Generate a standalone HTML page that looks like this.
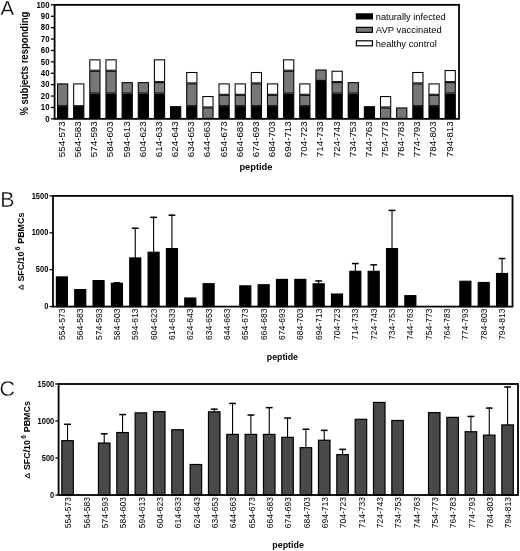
<!DOCTYPE html>
<html><head><meta charset="utf-8"><style>
html,body{margin:0;padding:0;background:#fff;}
svg{display:block;font-family:"Liberation Sans", sans-serif;will-change:transform;}
</style></head><body>
<svg width="520" height="551" viewBox="0 0 520 551" font-family='"Liberation Sans", sans-serif'>
<rect width="520" height="551" fill="#fff"/>
<g stroke="#fff" stroke-width="0.35"><text transform="translate(0.5,15.45) scale(0.985,1)" font-size="20.8">A</text>
<text transform="translate(0.3,206.7)" font-size="21.2">B</text>
<text transform="translate(-0.4,395.55)" font-size="21.5">C</text></g>
<rect x="57.50" y="106.70" width="10.20" height="11.65" fill="#000" stroke="#000" stroke-width="1.05"/>
<rect x="57.50" y="83.90" width="10.20" height="21.80" fill="#777777" stroke="#000" stroke-width="1.05"/>
<rect x="73.65" y="106.70" width="10.20" height="11.65" fill="#000" stroke="#000" stroke-width="1.05"/>
<rect x="73.65" y="83.90" width="10.20" height="21.80" fill="#fff" stroke="#000" stroke-width="1.05"/>
<rect x="89.80" y="94.04" width="10.20" height="24.31" fill="#000" stroke="#000" stroke-width="1.05"/>
<rect x="89.80" y="71.24" width="10.20" height="21.80" fill="#777777" stroke="#000" stroke-width="1.05"/>
<rect x="89.80" y="59.84" width="10.20" height="10.40" fill="#fff" stroke="#000" stroke-width="1.05"/>
<rect x="105.95" y="94.04" width="10.20" height="24.31" fill="#000" stroke="#000" stroke-width="1.05"/>
<rect x="105.95" y="71.24" width="10.20" height="21.80" fill="#777777" stroke="#000" stroke-width="1.05"/>
<rect x="105.95" y="59.84" width="10.20" height="10.40" fill="#fff" stroke="#000" stroke-width="1.05"/>
<rect x="122.10" y="94.04" width="10.20" height="24.31" fill="#000" stroke="#000" stroke-width="1.05"/>
<rect x="122.10" y="82.64" width="10.20" height="10.40" fill="#777777" stroke="#000" stroke-width="1.05"/>
<rect x="138.25" y="94.04" width="10.20" height="24.31" fill="#000" stroke="#000" stroke-width="1.05"/>
<rect x="138.25" y="82.64" width="10.20" height="10.40" fill="#777777" stroke="#000" stroke-width="1.05"/>
<rect x="154.40" y="94.04" width="10.20" height="24.31" fill="#000" stroke="#000" stroke-width="1.05"/>
<rect x="154.40" y="82.64" width="10.20" height="10.40" fill="#777777" stroke="#000" stroke-width="1.05"/>
<rect x="154.40" y="59.84" width="10.20" height="21.80" fill="#fff" stroke="#000" stroke-width="1.05"/>
<rect x="170.55" y="106.70" width="10.20" height="11.65" fill="#000" stroke="#000" stroke-width="1.05"/>
<rect x="186.70" y="106.70" width="10.20" height="11.65" fill="#000" stroke="#000" stroke-width="1.05"/>
<rect x="186.70" y="83.90" width="10.20" height="21.80" fill="#777777" stroke="#000" stroke-width="1.05"/>
<rect x="186.70" y="72.50" width="10.20" height="10.40" fill="#fff" stroke="#000" stroke-width="1.05"/>
<rect x="202.85" y="107.95" width="10.20" height="10.40" fill="#777777" stroke="#000" stroke-width="1.05"/>
<rect x="202.85" y="96.55" width="10.20" height="10.40" fill="#fff" stroke="#000" stroke-width="1.05"/>
<rect x="219.00" y="106.70" width="10.20" height="11.65" fill="#000" stroke="#000" stroke-width="1.05"/>
<rect x="219.00" y="95.30" width="10.20" height="10.40" fill="#777777" stroke="#000" stroke-width="1.05"/>
<rect x="219.00" y="83.90" width="10.20" height="10.40" fill="#fff" stroke="#000" stroke-width="1.05"/>
<rect x="235.15" y="106.70" width="10.20" height="11.65" fill="#000" stroke="#000" stroke-width="1.05"/>
<rect x="235.15" y="95.30" width="10.20" height="10.40" fill="#777777" stroke="#000" stroke-width="1.05"/>
<rect x="235.15" y="83.90" width="10.20" height="10.40" fill="#fff" stroke="#000" stroke-width="1.05"/>
<rect x="251.30" y="106.70" width="10.20" height="11.65" fill="#000" stroke="#000" stroke-width="1.05"/>
<rect x="251.30" y="83.90" width="10.20" height="21.80" fill="#777777" stroke="#000" stroke-width="1.05"/>
<rect x="251.30" y="72.50" width="10.20" height="10.40" fill="#fff" stroke="#000" stroke-width="1.05"/>
<rect x="267.45" y="106.70" width="10.20" height="11.65" fill="#000" stroke="#000" stroke-width="1.05"/>
<rect x="267.45" y="95.30" width="10.20" height="10.40" fill="#777777" stroke="#000" stroke-width="1.05"/>
<rect x="267.45" y="83.90" width="10.20" height="10.40" fill="#fff" stroke="#000" stroke-width="1.05"/>
<rect x="283.60" y="94.04" width="10.20" height="24.31" fill="#000" stroke="#000" stroke-width="1.05"/>
<rect x="283.60" y="71.24" width="10.20" height="21.80" fill="#777777" stroke="#000" stroke-width="1.05"/>
<rect x="283.60" y="59.84" width="10.20" height="10.40" fill="#fff" stroke="#000" stroke-width="1.05"/>
<rect x="299.75" y="106.70" width="10.20" height="11.65" fill="#000" stroke="#000" stroke-width="1.05"/>
<rect x="299.75" y="95.30" width="10.20" height="10.40" fill="#777777" stroke="#000" stroke-width="1.05"/>
<rect x="299.75" y="83.90" width="10.20" height="10.40" fill="#fff" stroke="#000" stroke-width="1.05"/>
<rect x="315.90" y="81.39" width="10.20" height="36.96" fill="#000" stroke="#000" stroke-width="1.05"/>
<rect x="315.90" y="69.99" width="10.20" height="10.40" fill="#777777" stroke="#000" stroke-width="1.05"/>
<rect x="332.05" y="94.04" width="10.20" height="24.31" fill="#000" stroke="#000" stroke-width="1.05"/>
<rect x="332.05" y="82.64" width="10.20" height="10.40" fill="#777777" stroke="#000" stroke-width="1.05"/>
<rect x="332.05" y="71.24" width="10.20" height="10.40" fill="#fff" stroke="#000" stroke-width="1.05"/>
<rect x="348.20" y="94.04" width="10.20" height="24.31" fill="#000" stroke="#000" stroke-width="1.05"/>
<rect x="348.20" y="82.64" width="10.20" height="10.40" fill="#777777" stroke="#000" stroke-width="1.05"/>
<rect x="364.35" y="106.70" width="10.20" height="11.65" fill="#000" stroke="#000" stroke-width="1.05"/>
<rect x="380.50" y="107.95" width="10.20" height="10.40" fill="#777777" stroke="#000" stroke-width="1.05"/>
<rect x="380.50" y="96.55" width="10.20" height="10.40" fill="#fff" stroke="#000" stroke-width="1.05"/>
<rect x="396.65" y="107.95" width="10.20" height="10.40" fill="#777777" stroke="#000" stroke-width="1.05"/>
<rect x="412.80" y="106.70" width="10.20" height="11.65" fill="#000" stroke="#000" stroke-width="1.05"/>
<rect x="412.80" y="83.90" width="10.20" height="21.80" fill="#777777" stroke="#000" stroke-width="1.05"/>
<rect x="412.80" y="72.50" width="10.20" height="10.40" fill="#fff" stroke="#000" stroke-width="1.05"/>
<rect x="428.95" y="106.70" width="10.20" height="11.65" fill="#000" stroke="#000" stroke-width="1.05"/>
<rect x="428.95" y="95.30" width="10.20" height="10.40" fill="#777777" stroke="#000" stroke-width="1.05"/>
<rect x="428.95" y="83.90" width="10.20" height="10.40" fill="#fff" stroke="#000" stroke-width="1.05"/>
<rect x="445.10" y="94.04" width="10.20" height="24.31" fill="#000" stroke="#000" stroke-width="1.05"/>
<rect x="445.10" y="82.64" width="10.20" height="10.40" fill="#777777" stroke="#000" stroke-width="1.05"/>
<rect x="445.10" y="70.56" width="10.20" height="11.08" fill="#fff" stroke="#000" stroke-width="1.05"/>
<rect x="54.60" y="4.85" width="404.40" height="114.00" fill="none" stroke="#000" stroke-width="1.8"/>
<line x1="50.9" y1="118.85" x2="54.60" y2="118.85" stroke="#000" stroke-width="1.3"/>
<text x="49.55" y="121.55" font-size="8.7" font-weight="bold" text-anchor="end" textLength="4.35" lengthAdjust="spacingAndGlyphs">0</text>
<line x1="50.9" y1="107.45" x2="54.60" y2="107.45" stroke="#000" stroke-width="1.3"/>
<text x="49.55" y="110.15" font-size="8.7" font-weight="bold" text-anchor="end" textLength="8.70" lengthAdjust="spacingAndGlyphs">10</text>
<line x1="50.9" y1="96.05" x2="54.60" y2="96.05" stroke="#000" stroke-width="1.3"/>
<text x="49.55" y="98.75" font-size="8.7" font-weight="bold" text-anchor="end" textLength="8.70" lengthAdjust="spacingAndGlyphs">20</text>
<line x1="50.9" y1="84.65" x2="54.60" y2="84.65" stroke="#000" stroke-width="1.3"/>
<text x="49.55" y="87.35" font-size="8.7" font-weight="bold" text-anchor="end" textLength="8.70" lengthAdjust="spacingAndGlyphs">30</text>
<line x1="50.9" y1="73.25" x2="54.60" y2="73.25" stroke="#000" stroke-width="1.3"/>
<text x="49.55" y="75.95" font-size="8.7" font-weight="bold" text-anchor="end" textLength="8.70" lengthAdjust="spacingAndGlyphs">40</text>
<line x1="50.9" y1="61.85" x2="54.60" y2="61.85" stroke="#000" stroke-width="1.3"/>
<text x="49.55" y="64.55" font-size="8.7" font-weight="bold" text-anchor="end" textLength="8.70" lengthAdjust="spacingAndGlyphs">50</text>
<line x1="50.9" y1="50.45" x2="54.60" y2="50.45" stroke="#000" stroke-width="1.3"/>
<text x="49.55" y="53.15" font-size="8.7" font-weight="bold" text-anchor="end" textLength="8.70" lengthAdjust="spacingAndGlyphs">60</text>
<line x1="50.9" y1="39.05" x2="54.60" y2="39.05" stroke="#000" stroke-width="1.3"/>
<text x="49.55" y="41.75" font-size="8.7" font-weight="bold" text-anchor="end" textLength="8.70" lengthAdjust="spacingAndGlyphs">70</text>
<line x1="50.9" y1="27.65" x2="54.60" y2="27.65" stroke="#000" stroke-width="1.3"/>
<text x="49.55" y="30.35" font-size="8.7" font-weight="bold" text-anchor="end" textLength="8.70" lengthAdjust="spacingAndGlyphs">80</text>
<line x1="50.9" y1="16.25" x2="54.60" y2="16.25" stroke="#000" stroke-width="1.3"/>
<text x="49.55" y="18.95" font-size="8.7" font-weight="bold" text-anchor="end" textLength="8.70" lengthAdjust="spacingAndGlyphs">90</text>
<line x1="50.9" y1="4.85" x2="54.60" y2="4.85" stroke="#000" stroke-width="1.3"/>
<text x="49.55" y="7.55" font-size="8.7" font-weight="bold" text-anchor="end" textLength="13.05" lengthAdjust="spacingAndGlyphs">100</text>
<text transform="translate(27.80,63.60) rotate(-90)" font-size="10.4" font-weight="bold" text-anchor="middle" textLength="104.00" lengthAdjust="spacingAndGlyphs">% subjects responding</text>
<text transform="translate(65.00,121.30) rotate(-90)" font-size="9.3" text-anchor="end" textLength="35.90" lengthAdjust="spacingAndGlyphs">554-573</text>
<text transform="translate(81.15,121.30) rotate(-90)" font-size="9.3" text-anchor="end" textLength="35.90" lengthAdjust="spacingAndGlyphs">564-583</text>
<text transform="translate(97.30,121.30) rotate(-90)" font-size="9.3" text-anchor="end" textLength="35.90" lengthAdjust="spacingAndGlyphs">574-593</text>
<text transform="translate(113.45,121.30) rotate(-90)" font-size="9.3" text-anchor="end" textLength="35.90" lengthAdjust="spacingAndGlyphs">584-603</text>
<text transform="translate(129.60,121.30) rotate(-90)" font-size="9.3" text-anchor="end" textLength="35.90" lengthAdjust="spacingAndGlyphs">594-613</text>
<text transform="translate(145.75,121.30) rotate(-90)" font-size="9.3" text-anchor="end" textLength="35.90" lengthAdjust="spacingAndGlyphs">604-623</text>
<text transform="translate(161.90,121.30) rotate(-90)" font-size="9.3" text-anchor="end" textLength="35.90" lengthAdjust="spacingAndGlyphs">614-633</text>
<text transform="translate(178.05,121.30) rotate(-90)" font-size="9.3" text-anchor="end" textLength="35.90" lengthAdjust="spacingAndGlyphs">624-643</text>
<text transform="translate(194.20,121.30) rotate(-90)" font-size="9.3" text-anchor="end" textLength="35.90" lengthAdjust="spacingAndGlyphs">634-653</text>
<text transform="translate(210.35,121.30) rotate(-90)" font-size="9.3" text-anchor="end" textLength="35.90" lengthAdjust="spacingAndGlyphs">644-663</text>
<text transform="translate(226.50,121.30) rotate(-90)" font-size="9.3" text-anchor="end" textLength="35.90" lengthAdjust="spacingAndGlyphs">654-673</text>
<text transform="translate(242.65,121.30) rotate(-90)" font-size="9.3" text-anchor="end" textLength="35.90" lengthAdjust="spacingAndGlyphs">664-683</text>
<text transform="translate(258.80,121.30) rotate(-90)" font-size="9.3" text-anchor="end" textLength="35.90" lengthAdjust="spacingAndGlyphs">674-693</text>
<text transform="translate(274.95,121.30) rotate(-90)" font-size="9.3" text-anchor="end" textLength="35.90" lengthAdjust="spacingAndGlyphs">684-703</text>
<text transform="translate(291.10,121.30) rotate(-90)" font-size="9.3" text-anchor="end" textLength="35.90" lengthAdjust="spacingAndGlyphs">694-713</text>
<text transform="translate(307.25,121.30) rotate(-90)" font-size="9.3" text-anchor="end" textLength="35.90" lengthAdjust="spacingAndGlyphs">704-723</text>
<text transform="translate(323.40,121.30) rotate(-90)" font-size="9.3" text-anchor="end" textLength="35.90" lengthAdjust="spacingAndGlyphs">714-733</text>
<text transform="translate(339.55,121.30) rotate(-90)" font-size="9.3" text-anchor="end" textLength="35.90" lengthAdjust="spacingAndGlyphs">724-743</text>
<text transform="translate(355.70,121.30) rotate(-90)" font-size="9.3" text-anchor="end" textLength="35.90" lengthAdjust="spacingAndGlyphs">734-753</text>
<text transform="translate(371.85,121.30) rotate(-90)" font-size="9.3" text-anchor="end" textLength="35.90" lengthAdjust="spacingAndGlyphs">744-763</text>
<text transform="translate(388.00,121.30) rotate(-90)" font-size="9.3" text-anchor="end" textLength="35.90" lengthAdjust="spacingAndGlyphs">754-773</text>
<text transform="translate(404.15,121.30) rotate(-90)" font-size="9.3" text-anchor="end" textLength="35.90" lengthAdjust="spacingAndGlyphs">764-783</text>
<text transform="translate(420.30,121.30) rotate(-90)" font-size="9.3" text-anchor="end" textLength="35.90" lengthAdjust="spacingAndGlyphs">774-793</text>
<text transform="translate(436.45,121.30) rotate(-90)" font-size="9.3" text-anchor="end" textLength="35.90" lengthAdjust="spacingAndGlyphs">784-803</text>
<text transform="translate(452.60,121.30) rotate(-90)" font-size="9.3" text-anchor="end" textLength="35.90" lengthAdjust="spacingAndGlyphs">794-813</text>
<text x="255.90" y="169.50" font-size="8.9" font-weight="bold" text-anchor="middle" textLength="33.00" lengthAdjust="spacingAndGlyphs">peptide</text>
<rect x="356.4" y="13.90" width="16.0" height="5.0" fill="#000" stroke="#000" stroke-width="1.2"/>
<text x="375.80" y="20.00" font-size="8.9" textLength="69.90" lengthAdjust="spacingAndGlyphs">naturally infected</text>
<rect x="356.4" y="27.35" width="16.0" height="5.0" fill="#777777" stroke="#000" stroke-width="1.2"/>
<text x="375.80" y="33.45" font-size="8.9" textLength="66.00" lengthAdjust="spacingAndGlyphs">AVP vaccinated</text>
<rect x="356.4" y="40.80" width="16.0" height="5.0" fill="#fff" stroke="#000" stroke-width="1.2"/>
<text x="375.80" y="46.90" font-size="8.9" textLength="61.00" lengthAdjust="spacingAndGlyphs">healthy control</text>
<rect x="56.40" y="276.93" width="11.00" height="29.67" fill="#000" stroke="#000" stroke-width="1.2"/>
<rect x="74.74" y="289.63" width="11.00" height="16.97" fill="#000" stroke="#000" stroke-width="1.2"/>
<rect x="93.08" y="280.62" width="11.00" height="25.98" fill="#000" stroke="#000" stroke-width="1.2"/>
<line x1="116.92" y1="282.21" x2="116.92" y2="283.35" stroke="#000" stroke-width="1.1"/>
<line x1="113.52" y1="282.81" x2="120.32" y2="282.81" stroke="#000" stroke-width="1.5"/>
<rect x="111.42" y="283.35" width="11.00" height="23.25" fill="#000" stroke="#000" stroke-width="1.2"/>
<line x1="135.26" y1="227.67" x2="135.26" y2="257.97" stroke="#000" stroke-width="1.1"/>
<line x1="131.86" y1="228.27" x2="138.66" y2="228.27" stroke="#000" stroke-width="1.5"/>
<rect x="129.76" y="257.97" width="11.00" height="48.63" fill="#000" stroke="#000" stroke-width="1.2"/>
<line x1="153.60" y1="216.75" x2="153.60" y2="252.28" stroke="#000" stroke-width="1.1"/>
<line x1="150.20" y1="217.35" x2="157.00" y2="217.35" stroke="#000" stroke-width="1.5"/>
<rect x="148.10" y="252.28" width="11.00" height="54.32" fill="#000" stroke="#000" stroke-width="1.2"/>
<line x1="171.94" y1="214.61" x2="171.94" y2="248.59" stroke="#000" stroke-width="1.1"/>
<line x1="168.54" y1="215.21" x2="175.34" y2="215.21" stroke="#000" stroke-width="1.5"/>
<rect x="166.44" y="248.59" width="11.00" height="58.01" fill="#000" stroke="#000" stroke-width="1.2"/>
<rect x="184.78" y="298.04" width="11.00" height="8.56" fill="#000" stroke="#000" stroke-width="1.2"/>
<rect x="203.12" y="283.72" width="11.00" height="22.88" fill="#000" stroke="#000" stroke-width="1.2"/>
<rect x="239.80" y="285.86" width="11.00" height="20.74" fill="#000" stroke="#000" stroke-width="1.2"/>
<rect x="258.14" y="284.76" width="11.00" height="21.84" fill="#000" stroke="#000" stroke-width="1.2"/>
<rect x="276.48" y="279.44" width="11.00" height="27.16" fill="#000" stroke="#000" stroke-width="1.2"/>
<rect x="294.82" y="279.44" width="11.00" height="27.16" fill="#000" stroke="#000" stroke-width="1.2"/>
<line x1="318.66" y1="280.37" x2="318.66" y2="283.87" stroke="#000" stroke-width="1.1"/>
<line x1="315.26" y1="280.97" x2="322.06" y2="280.97" stroke="#000" stroke-width="1.5"/>
<rect x="313.16" y="283.87" width="11.00" height="22.73" fill="#000" stroke="#000" stroke-width="1.2"/>
<rect x="331.50" y="294.05" width="11.00" height="12.55" fill="#000" stroke="#000" stroke-width="1.2"/>
<line x1="355.34" y1="262.95" x2="355.34" y2="271.32" stroke="#000" stroke-width="1.1"/>
<line x1="351.94" y1="263.55" x2="358.74" y2="263.55" stroke="#000" stroke-width="1.5"/>
<rect x="349.84" y="271.32" width="11.00" height="35.28" fill="#000" stroke="#000" stroke-width="1.2"/>
<line x1="373.68" y1="264.28" x2="373.68" y2="271.32" stroke="#000" stroke-width="1.1"/>
<line x1="370.28" y1="264.88" x2="377.08" y2="264.88" stroke="#000" stroke-width="1.5"/>
<rect x="368.18" y="271.32" width="11.00" height="35.28" fill="#000" stroke="#000" stroke-width="1.2"/>
<line x1="392.02" y1="209.81" x2="392.02" y2="248.59" stroke="#000" stroke-width="1.1"/>
<line x1="388.62" y1="210.41" x2="395.42" y2="210.41" stroke="#000" stroke-width="1.5"/>
<rect x="386.52" y="248.59" width="11.00" height="58.01" fill="#000" stroke="#000" stroke-width="1.2"/>
<rect x="404.86" y="295.68" width="11.00" height="10.92" fill="#000" stroke="#000" stroke-width="1.2"/>
<rect x="459.88" y="281.29" width="11.00" height="25.31" fill="#000" stroke="#000" stroke-width="1.2"/>
<rect x="478.22" y="282.54" width="11.00" height="24.06" fill="#000" stroke="#000" stroke-width="1.2"/>
<line x1="502.06" y1="257.93" x2="502.06" y2="273.54" stroke="#000" stroke-width="1.1"/>
<line x1="498.66" y1="258.53" x2="505.46" y2="258.53" stroke="#000" stroke-width="1.5"/>
<rect x="496.56" y="273.54" width="11.00" height="33.06" fill="#000" stroke="#000" stroke-width="1.2"/>
<rect x="53.00" y="195.90" width="459.50" height="110.70" fill="none" stroke="#000" stroke-width="1.8"/>
<line x1="49.5" y1="306.60" x2="53.00" y2="306.60" stroke="#000" stroke-width="1.3"/>
<text x="48.30" y="309.25" font-size="8.5" font-weight="bold" text-anchor="end" textLength="4.15" lengthAdjust="spacingAndGlyphs">0</text>
<line x1="49.5" y1="269.70" x2="53.00" y2="269.70" stroke="#000" stroke-width="1.3"/>
<text x="48.30" y="272.35" font-size="8.5" font-weight="bold" text-anchor="end" textLength="12.45" lengthAdjust="spacingAndGlyphs">500</text>
<line x1="49.5" y1="232.80" x2="53.00" y2="232.80" stroke="#000" stroke-width="1.3"/>
<text x="48.30" y="235.45" font-size="8.5" font-weight="bold" text-anchor="end" textLength="16.60" lengthAdjust="spacingAndGlyphs">1000</text>
<line x1="49.5" y1="195.90" x2="53.00" y2="195.90" stroke="#000" stroke-width="1.3"/>
<text x="48.30" y="198.55" font-size="8.5" font-weight="bold" text-anchor="end" textLength="16.60" lengthAdjust="spacingAndGlyphs">1500</text>
<text transform="translate(23.60,212.60) rotate(-90)" font-size="9.2" font-weight="bold" text-anchor="end" textLength="31.20" lengthAdjust="spacingAndGlyphs">PBMCs</text>
<text transform="translate(19.90,246.70) rotate(-90)" font-size="6.6" font-weight="bold" text-anchor="end">6</text>
<text transform="translate(23.60,251.50) rotate(-90)" font-size="9.2" font-weight="bold" text-anchor="end" textLength="30.10" lengthAdjust="spacingAndGlyphs">SFC/10</text>
<path d="M23.05,284.90 L23.05,289.60 L18.70,287.25 Z" fill="none" stroke="#000" stroke-width="0.95" stroke-linejoin="round"/>
<text transform="translate(65.00,308.60) rotate(-90)" font-size="8.4" text-anchor="end" textLength="31.30" lengthAdjust="spacingAndGlyphs">554-573</text>
<text transform="translate(83.34,308.60) rotate(-90)" font-size="8.4" text-anchor="end" textLength="31.30" lengthAdjust="spacingAndGlyphs">564-583</text>
<text transform="translate(101.68,308.60) rotate(-90)" font-size="8.4" text-anchor="end" textLength="31.30" lengthAdjust="spacingAndGlyphs">574-593</text>
<text transform="translate(120.02,308.60) rotate(-90)" font-size="8.4" text-anchor="end" textLength="31.30" lengthAdjust="spacingAndGlyphs">584-603</text>
<text transform="translate(138.36,308.60) rotate(-90)" font-size="8.4" text-anchor="end" textLength="31.30" lengthAdjust="spacingAndGlyphs">594-613</text>
<text transform="translate(156.70,308.60) rotate(-90)" font-size="8.4" text-anchor="end" textLength="31.30" lengthAdjust="spacingAndGlyphs">604-623</text>
<text transform="translate(175.04,308.60) rotate(-90)" font-size="8.4" text-anchor="end" textLength="31.30" lengthAdjust="spacingAndGlyphs">614-633</text>
<text transform="translate(193.38,308.60) rotate(-90)" font-size="8.4" text-anchor="end" textLength="31.30" lengthAdjust="spacingAndGlyphs">624-643</text>
<text transform="translate(211.72,308.60) rotate(-90)" font-size="8.4" text-anchor="end" textLength="31.30" lengthAdjust="spacingAndGlyphs">634-653</text>
<text transform="translate(230.06,308.60) rotate(-90)" font-size="8.4" text-anchor="end" textLength="31.30" lengthAdjust="spacingAndGlyphs">644-663</text>
<text transform="translate(248.40,308.60) rotate(-90)" font-size="8.4" text-anchor="end" textLength="31.30" lengthAdjust="spacingAndGlyphs">654-673</text>
<text transform="translate(266.74,308.60) rotate(-90)" font-size="8.4" text-anchor="end" textLength="31.30" lengthAdjust="spacingAndGlyphs">664-683</text>
<text transform="translate(285.08,308.60) rotate(-90)" font-size="8.4" text-anchor="end" textLength="31.30" lengthAdjust="spacingAndGlyphs">674-693</text>
<text transform="translate(303.42,308.60) rotate(-90)" font-size="8.4" text-anchor="end" textLength="31.30" lengthAdjust="spacingAndGlyphs">684-703</text>
<text transform="translate(321.76,308.60) rotate(-90)" font-size="8.4" text-anchor="end" textLength="31.30" lengthAdjust="spacingAndGlyphs">694-713</text>
<text transform="translate(340.10,308.60) rotate(-90)" font-size="8.4" text-anchor="end" textLength="31.30" lengthAdjust="spacingAndGlyphs">704-723</text>
<text transform="translate(358.44,308.60) rotate(-90)" font-size="8.4" text-anchor="end" textLength="31.30" lengthAdjust="spacingAndGlyphs">714-733</text>
<text transform="translate(376.78,308.60) rotate(-90)" font-size="8.4" text-anchor="end" textLength="31.30" lengthAdjust="spacingAndGlyphs">724-743</text>
<text transform="translate(395.12,308.60) rotate(-90)" font-size="8.4" text-anchor="end" textLength="31.30" lengthAdjust="spacingAndGlyphs">734-753</text>
<text transform="translate(413.46,308.60) rotate(-90)" font-size="8.4" text-anchor="end" textLength="31.30" lengthAdjust="spacingAndGlyphs">744-763</text>
<text transform="translate(431.80,308.60) rotate(-90)" font-size="8.4" text-anchor="end" textLength="31.30" lengthAdjust="spacingAndGlyphs">754-773</text>
<text transform="translate(450.14,308.60) rotate(-90)" font-size="8.4" text-anchor="end" textLength="31.30" lengthAdjust="spacingAndGlyphs">764-783</text>
<text transform="translate(468.48,308.60) rotate(-90)" font-size="8.4" text-anchor="end" textLength="31.30" lengthAdjust="spacingAndGlyphs">774-793</text>
<text transform="translate(486.82,308.60) rotate(-90)" font-size="8.4" text-anchor="end" textLength="31.30" lengthAdjust="spacingAndGlyphs">784-803</text>
<text transform="translate(505.16,308.60) rotate(-90)" font-size="8.4" text-anchor="end" textLength="31.30" lengthAdjust="spacingAndGlyphs">794-813</text>
<text x="282.40" y="360.20" font-size="8.6" font-weight="bold" text-anchor="middle" textLength="31.20" lengthAdjust="spacingAndGlyphs">peptide</text>
<line x1="67.55" y1="423.70" x2="67.55" y2="440.68" stroke="#000" stroke-width="1.1"/>
<line x1="64.15" y1="424.30" x2="70.95" y2="424.30" stroke="#000" stroke-width="1.5"/>
<rect x="61.80" y="440.68" width="11.50" height="54.32" fill="#494949" stroke="#000" stroke-width="1.2"/>
<line x1="104.22" y1="433.25" x2="104.22" y2="443.05" stroke="#000" stroke-width="1.1"/>
<line x1="100.82" y1="433.85" x2="107.62" y2="433.85" stroke="#000" stroke-width="1.5"/>
<rect x="98.47" y="443.05" width="11.50" height="51.95" fill="#494949" stroke="#000" stroke-width="1.2"/>
<line x1="122.56" y1="413.94" x2="122.56" y2="432.54" stroke="#000" stroke-width="1.1"/>
<line x1="119.16" y1="414.54" x2="125.96" y2="414.54" stroke="#000" stroke-width="1.5"/>
<rect x="116.81" y="432.54" width="11.50" height="62.46" fill="#494949" stroke="#000" stroke-width="1.2"/>
<rect x="135.14" y="412.86" width="11.50" height="82.14" fill="#494949" stroke="#000" stroke-width="1.2"/>
<rect x="153.48" y="411.68" width="11.50" height="83.32" fill="#494949" stroke="#000" stroke-width="1.2"/>
<rect x="171.81" y="429.73" width="11.50" height="65.27" fill="#494949" stroke="#000" stroke-width="1.2"/>
<rect x="190.14" y="464.51" width="11.50" height="30.49" fill="#494949" stroke="#000" stroke-width="1.2"/>
<line x1="214.23" y1="408.61" x2="214.23" y2="411.82" stroke="#000" stroke-width="1.1"/>
<line x1="210.83" y1="409.21" x2="217.63" y2="409.21" stroke="#000" stroke-width="1.5"/>
<rect x="208.48" y="411.82" width="11.50" height="83.18" fill="#494949" stroke="#000" stroke-width="1.2"/>
<line x1="232.56" y1="402.84" x2="232.56" y2="434.39" stroke="#000" stroke-width="1.1"/>
<line x1="229.16" y1="403.44" x2="235.97" y2="403.44" stroke="#000" stroke-width="1.5"/>
<rect x="226.81" y="434.39" width="11.50" height="60.61" fill="#494949" stroke="#000" stroke-width="1.2"/>
<line x1="250.90" y1="414.45" x2="250.90" y2="434.39" stroke="#000" stroke-width="1.1"/>
<line x1="247.50" y1="415.05" x2="254.30" y2="415.05" stroke="#000" stroke-width="1.5"/>
<rect x="245.15" y="434.39" width="11.50" height="60.61" fill="#494949" stroke="#000" stroke-width="1.2"/>
<line x1="269.24" y1="407.05" x2="269.24" y2="434.39" stroke="#000" stroke-width="1.1"/>
<line x1="265.84" y1="407.65" x2="272.63" y2="407.65" stroke="#000" stroke-width="1.5"/>
<rect x="263.49" y="434.39" width="11.50" height="60.61" fill="#494949" stroke="#000" stroke-width="1.2"/>
<line x1="287.57" y1="417.49" x2="287.57" y2="437.35" stroke="#000" stroke-width="1.1"/>
<line x1="284.17" y1="418.09" x2="290.97" y2="418.09" stroke="#000" stroke-width="1.5"/>
<rect x="281.82" y="437.35" width="11.50" height="57.65" fill="#494949" stroke="#000" stroke-width="1.2"/>
<line x1="305.91" y1="428.66" x2="305.91" y2="447.64" stroke="#000" stroke-width="1.1"/>
<line x1="302.51" y1="429.26" x2="309.31" y2="429.26" stroke="#000" stroke-width="1.5"/>
<rect x="300.16" y="447.64" width="11.50" height="47.36" fill="#494949" stroke="#000" stroke-width="1.2"/>
<line x1="324.24" y1="429.77" x2="324.24" y2="440.24" stroke="#000" stroke-width="1.1"/>
<line x1="320.84" y1="430.37" x2="327.64" y2="430.37" stroke="#000" stroke-width="1.5"/>
<rect x="318.49" y="440.24" width="11.50" height="54.76" fill="#494949" stroke="#000" stroke-width="1.2"/>
<line x1="342.58" y1="448.79" x2="342.58" y2="454.60" stroke="#000" stroke-width="1.1"/>
<line x1="339.18" y1="449.39" x2="345.98" y2="449.39" stroke="#000" stroke-width="1.5"/>
<rect x="336.83" y="454.60" width="11.50" height="40.40" fill="#494949" stroke="#000" stroke-width="1.2"/>
<rect x="355.16" y="419.30" width="11.50" height="75.70" fill="#494949" stroke="#000" stroke-width="1.2"/>
<rect x="373.50" y="402.43" width="11.50" height="92.57" fill="#494949" stroke="#000" stroke-width="1.2"/>
<rect x="391.83" y="420.48" width="11.50" height="74.52" fill="#494949" stroke="#000" stroke-width="1.2"/>
<rect x="428.50" y="412.64" width="11.50" height="82.36" fill="#494949" stroke="#000" stroke-width="1.2"/>
<rect x="446.84" y="417.37" width="11.50" height="77.63" fill="#494949" stroke="#000" stroke-width="1.2"/>
<line x1="470.92" y1="415.86" x2="470.92" y2="431.73" stroke="#000" stroke-width="1.1"/>
<line x1="467.52" y1="416.46" x2="474.32" y2="416.46" stroke="#000" stroke-width="1.5"/>
<rect x="465.17" y="431.73" width="11.50" height="63.27" fill="#494949" stroke="#000" stroke-width="1.2"/>
<line x1="489.26" y1="407.50" x2="489.26" y2="435.13" stroke="#000" stroke-width="1.1"/>
<line x1="485.86" y1="408.10" x2="492.66" y2="408.10" stroke="#000" stroke-width="1.5"/>
<rect x="483.51" y="435.13" width="11.50" height="59.87" fill="#494949" stroke="#000" stroke-width="1.2"/>
<line x1="507.59" y1="386.41" x2="507.59" y2="424.92" stroke="#000" stroke-width="1.1"/>
<line x1="504.19" y1="387.01" x2="510.99" y2="387.01" stroke="#000" stroke-width="1.5"/>
<rect x="501.84" y="424.92" width="11.50" height="70.08" fill="#494949" stroke="#000" stroke-width="1.2"/>
<rect x="58.60" y="384.00" width="459.40" height="111.00" fill="none" stroke="#000" stroke-width="1.8"/>
<line x1="55.3" y1="495.00" x2="58.60" y2="495.00" stroke="#000" stroke-width="1.3"/>
<text x="54.20" y="497.65" font-size="8.5" font-weight="bold" text-anchor="end" textLength="4.15" lengthAdjust="spacingAndGlyphs">0</text>
<line x1="55.3" y1="458.00" x2="58.60" y2="458.00" stroke="#000" stroke-width="1.3"/>
<text x="54.20" y="460.65" font-size="8.5" font-weight="bold" text-anchor="end" textLength="12.45" lengthAdjust="spacingAndGlyphs">500</text>
<line x1="55.3" y1="421.00" x2="58.60" y2="421.00" stroke="#000" stroke-width="1.3"/>
<text x="54.20" y="423.65" font-size="8.5" font-weight="bold" text-anchor="end" textLength="16.60" lengthAdjust="spacingAndGlyphs">1000</text>
<line x1="55.3" y1="384.00" x2="58.60" y2="384.00" stroke="#000" stroke-width="1.3"/>
<text x="54.20" y="386.65" font-size="8.5" font-weight="bold" text-anchor="end" textLength="16.60" lengthAdjust="spacingAndGlyphs">1500</text>
<text transform="translate(29.90,401.10) rotate(-90)" font-size="9.2" font-weight="bold" text-anchor="end" textLength="31.20" lengthAdjust="spacingAndGlyphs">PBMCs</text>
<text transform="translate(26.20,435.20) rotate(-90)" font-size="6.6" font-weight="bold" text-anchor="end">6</text>
<text transform="translate(29.90,440.00) rotate(-90)" font-size="9.2" font-weight="bold" text-anchor="end" textLength="30.10" lengthAdjust="spacingAndGlyphs">SFC/10</text>
<path d="M29.35,473.40 L29.35,478.10 L25.00,475.75 Z" fill="none" stroke="#000" stroke-width="0.95" stroke-linejoin="round"/>
<text transform="translate(71.35,497.00) rotate(-90)" font-size="8.4" text-anchor="end" textLength="31.30" lengthAdjust="spacingAndGlyphs">554-573</text>
<text transform="translate(89.68,497.00) rotate(-90)" font-size="8.4" text-anchor="end" textLength="31.30" lengthAdjust="spacingAndGlyphs">564-583</text>
<text transform="translate(108.02,497.00) rotate(-90)" font-size="8.4" text-anchor="end" textLength="31.30" lengthAdjust="spacingAndGlyphs">574-593</text>
<text transform="translate(126.36,497.00) rotate(-90)" font-size="8.4" text-anchor="end" textLength="31.30" lengthAdjust="spacingAndGlyphs">584-603</text>
<text transform="translate(144.69,497.00) rotate(-90)" font-size="8.4" text-anchor="end" textLength="31.30" lengthAdjust="spacingAndGlyphs">594-613</text>
<text transform="translate(163.03,497.00) rotate(-90)" font-size="8.4" text-anchor="end" textLength="31.30" lengthAdjust="spacingAndGlyphs">604-623</text>
<text transform="translate(181.36,497.00) rotate(-90)" font-size="8.4" text-anchor="end" textLength="31.30" lengthAdjust="spacingAndGlyphs">614-633</text>
<text transform="translate(199.69,497.00) rotate(-90)" font-size="8.4" text-anchor="end" textLength="31.30" lengthAdjust="spacingAndGlyphs">624-643</text>
<text transform="translate(218.03,497.00) rotate(-90)" font-size="8.4" text-anchor="end" textLength="31.30" lengthAdjust="spacingAndGlyphs">634-653</text>
<text transform="translate(236.37,497.00) rotate(-90)" font-size="8.4" text-anchor="end" textLength="31.30" lengthAdjust="spacingAndGlyphs">644-663</text>
<text transform="translate(254.70,497.00) rotate(-90)" font-size="8.4" text-anchor="end" textLength="31.30" lengthAdjust="spacingAndGlyphs">654-673</text>
<text transform="translate(273.04,497.00) rotate(-90)" font-size="8.4" text-anchor="end" textLength="31.30" lengthAdjust="spacingAndGlyphs">664-683</text>
<text transform="translate(291.37,497.00) rotate(-90)" font-size="8.4" text-anchor="end" textLength="31.30" lengthAdjust="spacingAndGlyphs">674-693</text>
<text transform="translate(309.71,497.00) rotate(-90)" font-size="8.4" text-anchor="end" textLength="31.30" lengthAdjust="spacingAndGlyphs">684-703</text>
<text transform="translate(328.04,497.00) rotate(-90)" font-size="8.4" text-anchor="end" textLength="31.30" lengthAdjust="spacingAndGlyphs">694-713</text>
<text transform="translate(346.38,497.00) rotate(-90)" font-size="8.4" text-anchor="end" textLength="31.30" lengthAdjust="spacingAndGlyphs">704-723</text>
<text transform="translate(364.71,497.00) rotate(-90)" font-size="8.4" text-anchor="end" textLength="31.30" lengthAdjust="spacingAndGlyphs">714-733</text>
<text transform="translate(383.05,497.00) rotate(-90)" font-size="8.4" text-anchor="end" textLength="31.30" lengthAdjust="spacingAndGlyphs">724-743</text>
<text transform="translate(401.38,497.00) rotate(-90)" font-size="8.4" text-anchor="end" textLength="31.30" lengthAdjust="spacingAndGlyphs">734-753</text>
<text transform="translate(419.72,497.00) rotate(-90)" font-size="8.4" text-anchor="end" textLength="31.30" lengthAdjust="spacingAndGlyphs">744-763</text>
<text transform="translate(438.05,497.00) rotate(-90)" font-size="8.4" text-anchor="end" textLength="31.30" lengthAdjust="spacingAndGlyphs">754-773</text>
<text transform="translate(456.39,497.00) rotate(-90)" font-size="8.4" text-anchor="end" textLength="31.30" lengthAdjust="spacingAndGlyphs">764-783</text>
<text transform="translate(474.72,497.00) rotate(-90)" font-size="8.4" text-anchor="end" textLength="31.30" lengthAdjust="spacingAndGlyphs">774-793</text>
<text transform="translate(493.06,497.00) rotate(-90)" font-size="8.4" text-anchor="end" textLength="31.30" lengthAdjust="spacingAndGlyphs">784-803</text>
<text transform="translate(511.39,497.00) rotate(-90)" font-size="8.4" text-anchor="end" textLength="31.30" lengthAdjust="spacingAndGlyphs">794-813</text>
<text x="288.10" y="548.00" font-size="8.7" font-weight="bold" text-anchor="middle" textLength="31.60" lengthAdjust="spacingAndGlyphs">peptide</text>
</svg>
</body></html>
